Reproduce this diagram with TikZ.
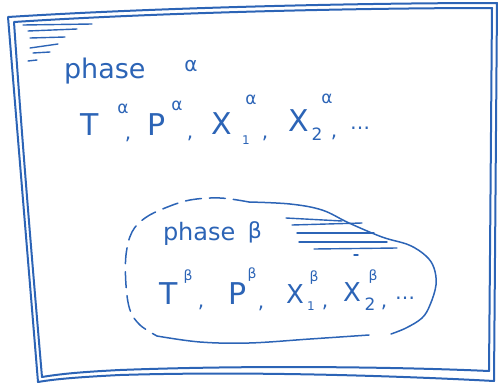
\documentclass[tikz,border=0pt]{standalone}
\usepackage{fontspec}
\setmainfont{DejaVu Sans}
\definecolor{pen}{RGB}{44,100,182}
\tikzset{
  ink/.style={draw=pen, line width=2pt, line cap=round, line join=round},
  hatch/.style={draw=pen, line width=1.4pt, line cap=round},
  blob/.style={draw=pen, line width=1.5pt, line cap=round},
  txt/.style={text=pen, inner sep=0pt, outer sep=0pt},
  bigletter/.style={txt, font=\fontsize{30}{34}\selectfont},
  midletter/.style={txt, font=\fontsize{26}{30}\selectfont},
  word/.style={txt, anchor=base west},
  supg/.style={txt, font=\fontsize{17}{19}\selectfont},
  smallsup/.style={txt, font=\fontsize{14}{16}\selectfont},
  tickone/.style={txt, font=\fontsize{12}{14}\selectfont},
  commamark/.style={txt, font=\fontsize{20}{22}\selectfont},
  dotsmark/.style={txt, font=\fontsize{20}{22}\selectfont},
}
\begin{document}
\begin{tikzpicture}[x=1pt,y=-1pt]
\useasboundingbox (0,0) rectangle (498,383);
% outer frame, double hand-drawn lines
\draw[ink] (8,17) .. controls (150,8) and (350,3) .. (497,3)
  .. controls (496,130) and (495,260) .. (494,381)
  .. controls (400,376) and (250,371) .. (120,375)
  .. controls (80,377) and (55,379) .. (38,382)
  .. controls (28,260) and (18,140) .. (8,17);
\draw[ink] (14,22) .. controls (150,13) and (350,8) .. (492,8)
  .. controls (491,130) and (490,260) .. (489,371)
  .. controls (400,367) and (250,365) .. (120,370)
  .. controls (80,372) and (60,374) .. (42,377)
  .. controls (32,260) and (22,140) .. (14,22);
% hatch top-left
\draw[hatch] (23,25) -- (92,24);
\draw[hatch] (28,31) -- (77,29);
\draw[hatch] (30,38) -- (65,37);
\draw[hatch] (30,48) -- (58,44);
\draw[hatch] (33,53) -- (50,52);
\draw[hatch] (28,61) -- (37,60);
% phase alpha
\node[word, font=\fontsize{27}{30}\selectfont] (pa) at (64,78) {phase};
\node[txt, font=\fontsize{20}{22}\selectfont] (pal) at (191,66) {α};
\node[bigletter] (ta) at (90,125) {T};
\node[supg] (tas) at (123,109) {α};
\node[commamark] (c1) at (128,139) {,};
\node[bigletter] (pp) at (157,125) {P};
\node[supg] (pas) at (177,106) {α};
\node[commamark] (c2) at (190,138) {,};
\node[bigletter] (xa1) at (222,124) {X};
\node[tickone] (xa1b) at (246,140) {1};
\node[supg] (xa1s) at (251,100) {α};
\node[commamark] (c3) at (265,138) {,};
\node[bigletter] (xa2) at (299,121) {X};
\node[supg] (xa2b) at (317,134) {2};
\node[supg] (xa2s) at (327,99) {α};
\node[commamark] (c4) at (334,137) {,};
\node[dotsmark] (da) at (360,128) {…};
% phase beta blob
\draw[blob, dash pattern=on 16pt off 8pt] plot[smooth, tension=0.6] coordinates {(249,202) (220,198) (190,200) (165,208) (145,218) (132,232) (126,255) (126,285) (130,310) (140,325) (157,336)};
\draw[blob] plot[smooth, tension=0.6] coordinates {(157,336) (200,342) (249,343) (310,339) (369,335)};
\draw[blob] plot[smooth, tension=0.6] coordinates {(391,334) (406,328) (422,318) (430,305) (436,285) (434,268) (426,256) (409,245) (382,237) (349,223) (322,210) (290,204) (249,202)};
% hatch in blob
\draw[hatch] (286,218) -- (342,221);
\draw[hatch] (292,225) -- (362,223);
\draw[hatch] (297,233) -- (374,233);
\draw[hatch] (299,242) -- (387,242);
\draw[hatch] (314,249) -- (397,248);
\draw[hatch] (354,255) -- (358,255);
\node[word, font=\fontsize{24}{28}\selectfont] (pb) at (163,240) {phase};
\node[txt, font=\fontsize{22}{26}\selectfont] (pbl) at (255,232) {β};
\node[bigletter] (tb) at (169,294) {T};
\node[smallsup] (tbs) at (188,277) {β};
\node[commamark] (d1) at (201,307) {,};
\node[bigletter] (pbp) at (238,294) {P};
\node[smallsup] (pbs) at (252,275) {β};
\node[commamark] (d2) at (261,308) {,};
\node[midletter] (xb1) at (295,294) {X};
\node[tickone] (xb1b) at (311,306) {1};
\node[smallsup] (xb1s) at (314,278) {β};
\node[commamark] (d3) at (325,307) {,};
\node[midletter] (xb2) at (352,292) {X};
\node[supg] (xb2b) at (370,304) {2};
\node[smallsup] (xb2s) at (373,277) {β};
\node[commamark] (d4) at (384,307) {,};
\node[dotsmark] (db) at (405,298) {…};
\end{tikzpicture}
\end{document}
